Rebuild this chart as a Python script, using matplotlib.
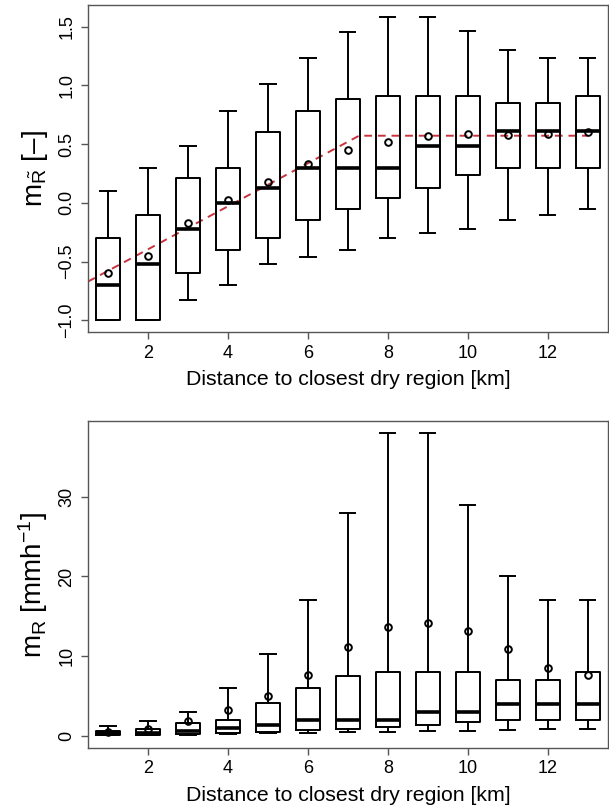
import numpy as np
import matplotlib
matplotlib.use("Agg")
import matplotlib.pyplot as plt

plt.rcParams['font.family'] = ['Liberation Sans', 'DejaVu Sans']
plt.rcParams['mathtext.fontset'] = 'custom'
plt.rcParams['mathtext.rm'] = 'Liberation Sans'
plt.rcParams['mathtext.it'] = 'Liberation Sans'

dist = [1, 2, 3, 4, 5, 6, 7, 8, 9, 10, 11, 12, 13]

# top panel: normalised m~R
top_whislo = [-1.0, -1.0, -0.83, -0.70, -0.52, -0.46, -0.40, -0.30, -0.26, -0.22, -0.15, -0.10, -0.05]
top_q1 = [-1.0, -1.0, -0.60, -0.40, -0.30, -0.15, -0.05, 0.04, 0.13, 0.24, 0.30, 0.30, 0.30]
top_med = [-0.70, -0.52, -0.22, 0.0, 0.13, 0.30, 0.30, 0.30, 0.48, 0.48, 0.61, 0.61, 0.61]
top_q3 = [-0.30, -0.10, 0.21, 0.30, 0.60, 0.78, 0.88, 0.91, 0.91, 0.91, 0.85, 0.85, 0.91]
top_whishi = [0.10, 0.30, 0.48, 0.78, 1.01, 1.23, 1.45, 1.58, 1.58, 1.46, 1.30, 1.23, 1.23]
top_mean = [-0.60, -0.45, -0.17, 0.02, 0.18, 0.33, 0.45, 0.52, 0.565, 0.585, 0.58, 0.585, 0.60]

# fitted piecewise line
fit_x = [0.5, 7.28, 13.0]
fit_y = [-0.67, 0.571, 0.571]

# bottom panel: m_R [mm/h]
bot_whislo = [0.1, 0.1, 0.15, 0.2, 0.4, 0.35, 0.45, 0.5, 0.6, 0.6, 0.7, 0.8, 0.9]
bot_q1 = [0.15, 0.15, 0.2, 0.35, 0.45, 0.75, 0.9, 1.1, 1.4, 1.75, 1.95, 1.95, 1.95]
bot_med = [0.3, 0.3, 0.6, 1.0, 1.4, 2.0, 2.0, 2.0, 3.05, 3.05, 4.05, 4.05, 4.05]
bot_q3 = [0.55, 0.8, 1.6, 1.95, 4.1, 6.0, 7.55, 8.05, 8.05, 8.05, 7.05, 7.05, 8.05]
bot_whishi = [1.25, 1.9, 3.0, 6.0, 10.3, 17.0, 28.0, 38.0, 38.0, 29.0, 20.0, 17.0, 17.0]
bot_mean = [0.5, 0.9, 1.9, 3.2, 5.0, 7.6, 11.1, 13.7, 14.2, 13.1, 10.9, 8.55, 7.6]

xticks = [2, 4, 6, 8, 10, 12]
top_yticks = [-1.0, -0.5, 0.0, 0.5, 1.0, 1.5]
top_ylabels = ['\u22121.0', '\u22120.5', '0.0', '0.5', '1.0', '1.5']
bot_yticks = [0, 10, 20, 30]


def stats(lo, q1, med, q3, hi, mean):
    out = []
    for i in range(len(lo)):
        out.append(dict(whislo=lo[i], q1=q1[i], med=med[i], q3=q3[i],
                        whishi=hi[i], mean=mean[i], fliers=[]))
    return out


def draw(ax, st):
    ax.bxp(st, positions=dist, widths=0.6, capwidths=0.38, showmeans=True,
           showfliers=False,
           boxprops=dict(color='black', linewidth=1.4),
           whiskerprops=dict(color='black', linewidth=1.4, linestyle='-'),
           capprops=dict(color='black', linewidth=1.4),
           medianprops=dict(color='black', linewidth=2.6),
           meanprops=dict(marker='o', markerfacecolor='none',
                          markeredgecolor='black', markersize=4.8,
                          markeredgewidth=1.4))
    for s in ax.spines.values():
        s.set_color('#555555')
        s.set_linewidth(1.0)
    ax.tick_params(colors='#555555', labelcolor='black', length=5, width=1.0,
                   labelsize=13, pad=4)
    ax.set_xlim(0.5, 13.5)
    ax.set_xticks(xticks)
    ax.set_xticklabels([str(v) for v in xticks])
    ax.set_xlabel('Distance to closest dry region [km]', fontsize=15.3, labelpad=6)


fig = plt.figure(figsize=(6.09, 8.08), dpi=100)

ax1 = fig.add_axes([0.1445, 0.5885, 0.8535, 0.4053])
ax1.plot(fit_x, fit_y, color='#c8323c', linewidth=1.4, dashes=(4, 3), zorder=1)
draw(ax1, stats(top_whislo, top_q1, top_med, top_q3, top_whishi, top_mean))
ax1.set_ylim(-1.103, 1.683)
ax1.set_yticks(top_yticks)
ax1.set_yticklabels(top_ylabels, rotation=90, va='center')
ax1.set_ylabel(r'$\mathrm{m}_{\tilde{\mathrm{R}}}$ [' + '\u2013]', fontsize=20, labelpad=6)

ax2 = fig.add_axes([0.1445, 0.0743, 0.8535, 0.4047])
draw(ax2, stats(bot_whislo, bot_q1, bot_med, bot_q3, bot_whishi, bot_mean))
ax2.set_ylim(-1.52, 39.52)
ax2.set_yticks(bot_yticks)
ax2.set_yticklabels([str(v) for v in bot_yticks], rotation=90, va='center')
ax2.set_ylabel(r'$\mathrm{m_R}$ [mmh$^{\mathrm{-1}}$]', fontsize=20, labelpad=6)

fig.savefig('out.png', dpi=100)
